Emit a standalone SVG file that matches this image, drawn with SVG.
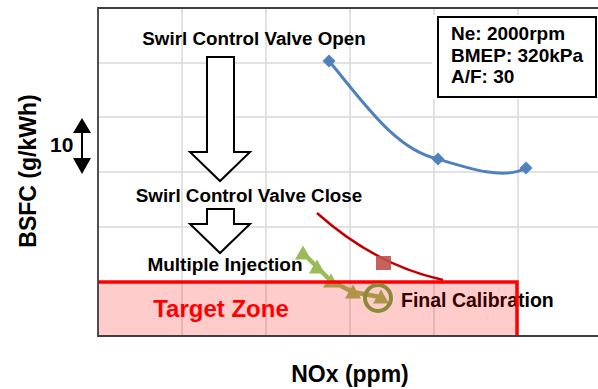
<svg xmlns="http://www.w3.org/2000/svg" width="598" height="389" viewBox="0 0 598 389">
  <style>
    text { font-family: "Liberation Sans", Arial, sans-serif; font-weight: bold; fill: #000; }
    .grid { stroke: #D9D9D9; stroke-width: 1.5; fill: none; }
    .axis { stroke: #3F3F3F; stroke-width: 1.8; fill: none; }
    .label { font-size: 18.8px; text-anchor: middle; }
    .axtitle { font-size: 23px; text-anchor: middle; }
    .cond { font-size: 19px; }
    .bigarrow { fill: #fff; stroke: #000; stroke-width: 2; stroke-linejoin: miter; }
  </style>
  <defs>
    <path id="tri" d="M0,-7.5 L8,6.5 L-8,6.5 Z" fill="#9BBB59"/>
    <path id="dia" d="M0,-6.5 L6.5,0 L0,6.5 L-6.5,0 Z" fill="#4F81BD"/>
  </defs>

  <rect width="598" height="389" fill="#fff"/>

  <!-- plot grid -->
  <g id="grid">
    <path class="grid" d="M182,8V336M266,8V336M350,8V336M434,8V336M518,8V336"/>
    <path class="grid" d="M98,63H598M98,117H598M98,172H598M98,227H598"/>
  </g>

  <!-- data: blue series -->
  <g id="series-open">
    <path d="M329,61 C362,100 395,150 438,159 C470,169 505,180 526,168" fill="none" stroke="#4F81BD" stroke-width="3"/>
    <use href="#dia" x="329" y="61"/>
    <use href="#dia" x="438" y="159"/>
    <use href="#dia" x="526" y="168"/>
  </g>

  <!-- data: red series -->
  <g id="series-close">
    <path d="M317,213 Q375,265 443,280" fill="none" stroke="#C00000" stroke-width="2.4"/>
    <rect x="376" y="256" width="15" height="14" fill="#C0504D" fill-opacity="0.9"/>
  </g>

  <!-- data: green series -->
  <g id="series-multi">
    <polyline points="303,253 317,267 331,281 353,292 380,297" fill="none" stroke="#9BBB59" stroke-width="4.5"/>
    <use href="#tri" x="303" y="253"/>
    <use href="#tri" x="317" y="267"/>
    <use href="#tri" x="331" y="281"/>
    <use href="#tri" x="353" y="292"/>
    <use href="#tri" x="381" y="297"/>
  </g>

  <g id="final-calibration">
    <text x="401" y="307" style="font-size:19.5px" fill="#111">Final Calibration</text>
  </g>

  <!-- target zone -->
  <g id="target-zone">
    <rect x="98" y="282" width="419" height="54" fill="#FF0000" fill-opacity="0.2"/>
    <path d="M98,282H517V336" fill="none" stroke="#FF0000" stroke-width="3.5"/>
    <text x="221" y="317" style="font-size:24px;text-anchor:middle;fill:#FF0000">Target Zone</text>
  </g>

  <g id="final-marker">
    <circle cx="378" cy="298" r="13" fill="none" stroke="#8A8A3A" stroke-width="4"/>
  </g>

  <!-- axes -->
  <g id="axes">
    <path class="axis" d="M598,8H98V336H598"/>
  </g>

  <!-- operating condition box -->
  <g id="condition-box">
    <rect x="432" y="15" width="166" height="84" fill="#fff"/>
    <rect x="438" y="17" width="158" height="80" fill="#fff" stroke="#000" stroke-width="2"/>
    <text class="cond" x="451" y="40">Ne: 2000rpm</text>
    <text class="cond" x="451" y="62">BMEP: 320kPa</text>
    <text class="cond" x="451" y="83">A/F: 30</text>
  </g>

  <!-- step labels -->
  <g id="label-open"><text class="label" x="254" y="45">Swirl Control Valve Open</text></g>
  <g id="label-close"><text class="label" x="249" y="202">Swirl Control Valve Close</text></g>
  <g id="label-multi"><text class="label" x="225" y="271" style="font-size:19px">Multiple Injection</text></g>

  <!-- connectors between steps -->
  <g id="connectors">
    <path class="bigarrow" d="M207,57H234V152H250L220,181L190,152H207Z"/>
    <path class="bigarrow" d="M207,209H234V224H250L220,253L190,224H207Z"/>
  </g>

  <!-- scale bar -->
  <g id="scale">
    <path d="M82,125V166" stroke="#000" stroke-width="2"/>
    <path d="M82,118L91,133H73Z M82,174L91,158H73Z" fill="#000"/>
    <text x="50" y="152" style="font-size:21px">10</text>
  </g>

  <!-- axis titles -->
  <g id="axis-titles">
    <text class="axtitle" transform="translate(36,171) rotate(-90)">BSFC (g/kWh)</text>
    <text class="axtitle" x="350" y="382">NOx (ppm)</text>
  </g>
</svg>
